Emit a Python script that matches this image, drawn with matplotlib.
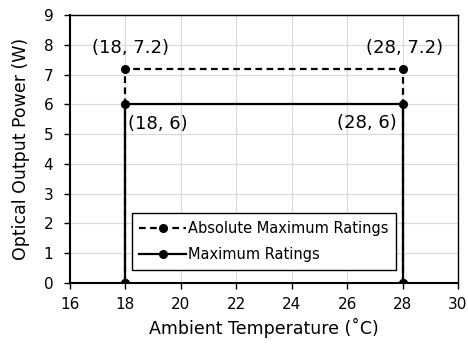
import matplotlib
matplotlib.use("Agg")
import matplotlib.pyplot as plt

# data
abs_x = [18, 18, 28, 28]
abs_y = [0, 7.2, 7.2, 0]
max_x = [18, 18, 28, 28]
max_y = [0, 6, 6, 0]
x_ticks = [16, 18, 20, 22, 24, 26, 28, 30]
y_ticks = [0, 1, 2, 3, 4, 5, 6, 7, 8, 9]

plt.rcParams["font.family"] = "DejaVu Sans"

fig = plt.figure(figsize=(4.68, 3.45), dpi=100)
ax = fig.add_axes([0.1496, 0.1797, 0.8290, 0.7768])

ax.plot(abs_x, abs_y, color="black", linestyle=(0, (3, 2)), linewidth=1.6,
        marker="o", markersize=5.5, label="Absolute Maximum Ratings")
ax.plot(max_x, max_y, color="black", linestyle="-", linewidth=1.6,
        marker="o", markersize=5.5, label="Maximum Ratings")

ax.set_xlim(16, 30)
ax.set_ylim(0, 9)
ax.set_xticks(x_ticks)
ax.set_yticks(y_ticks)
ax.grid(True, color="#d9d9d9", linewidth=0.8)
ax.set_axisbelow(True)
ax.tick_params(direction="out", length=4, width=1, labelsize=11, colors="black", pad=6)
ax.tick_params(axis="y", pad=8)
for s in ax.spines.values():
    s.set_color("black")
    s.set_linewidth(1.0)
ax.spines["left"].set_linewidth(1.5)
ax.spines["bottom"].set_linewidth(1.5)

ax.set_xlabel("Ambient Temperature (˚C)", fontsize=12.5, labelpad=4)
ax.set_ylabel("Optical Output Power (W)", fontsize=12.5, labelpad=10)

# point labels
kw = dict(textcoords="offset pixels", fontsize=13)
ax.annotate("(18, 7.2)", (abs_x[1], abs_y[1]), xytext=(5, 21), ha="center", va="center", **kw)
ax.annotate("(28, 7.2)", (abs_x[2], abs_y[2]), xytext=(2, 21), ha="center", va="center", **kw)
ax.annotate("(18, 6)", (max_x[1], max_y[1]), xytext=(3, -20), ha="left", va="center", **kw)
ax.annotate("(28, 6)", (max_x[2], max_y[2]), xytext=(-6, -19), ha="right", va="center", **kw)

leg = ax.legend(loc="lower left", bbox_to_anchor=(0.16, 0.05), fontsize=10.5,
                frameon=True, fancybox=False, edgecolor="black", framealpha=1,
                handlelength=3.2, handletextpad=0.15, borderpad=0.5, labelspacing=0.8,
                borderaxespad=0)
leg.get_frame().set_linewidth(1.0)

fig.savefig("out.png", dpi=100)
